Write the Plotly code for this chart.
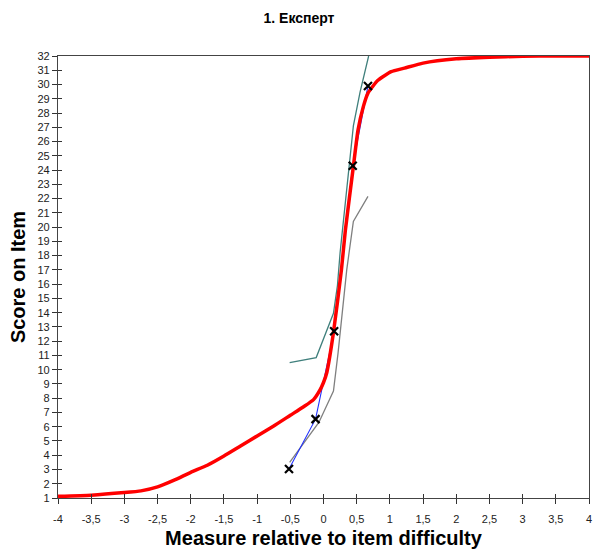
import plotly.graph_objects as go

# Model expected score curve (red)
model_x = [-4, -3.5, -3, -2.75, -2.5, -2.25, -2, -1.75, -1.5, -1.25, -1, -0.75, -0.5, -0.3, -0.15,
           -0.05, 0, 0.05, 0.15, 0.27, 0.33, 0.45, 0.52, 0.6, 0.67, 0.82, 1.02, 1.22, 1.5, 2, 2.5, 3, 3.5, 4]
model_y = [1.12, 1.2, 1.38, 1.5, 1.78, 2.25, 2.8, 3.3, 3.95, 4.65, 5.35, 6.05, 6.8, 7.4, 7.9,
           8.6, 9.1, 9.8, 12.6, 17.0, 19.8, 24.25, 26.8, 28.45, 29.4, 30.3, 30.9, 31.15, 31.5, 31.8, 31.92, 31.98, 32, 32]

# Upper band (teal)
upper_x = [-0.51, -0.11, 0.15, 0.21, 0.25, 0.30, 0.37, 0.45, 0.55, 0.68]
upper_y = [10.5, 10.85, 13.95, 15.9, 18.2, 20.5, 23.8, 27.1, 29.45, 32.0]

# Lower band (gray)
lower_x = [-0.51, -0.07, 0.15, 0.22, 0.35, 0.42, 0.45, 0.67]
lower_y = [3.5, 6.3, 8.5, 11.2, 17.0, 19.3, 20.4, 22.15]

# Observed points (blue line with x markers)
obs_x = [-0.52, -0.12, 0.16, 0.44, 0.67]
obs_y = [3.03, 6.53, 12.69, 24.3, 29.9]

x_tickvals = [-4, -3.5, -3, -2.5, -2, -1.5, -1, -0.5, 0, 0.5, 1, 1.5, 2, 2.5, 3, 3.5, 4]
x_ticktext = ["-4", "-3,5", "-3", "-2,5", "-2", "-1,5", "-1", "-0,5", "0", "0,5", "1", "1,5", "2", "2,5", "3", "3,5", "4"]
y_tickvals = list(range(1, 33))

FONT = "Liberation Sans, Arial, sans-serif"

fig = go.Figure()
fig.add_trace(go.Scatter(x=upper_x, y=upper_y, mode="lines", line=dict(color="#3f7f7c", width=1.3), showlegend=False))
fig.add_trace(go.Scatter(x=lower_x, y=lower_y, mode="lines", line=dict(color="#7f7f7f", width=1.3), showlegend=False))
fig.add_trace(go.Scatter(x=obs_x, y=obs_y, mode="lines", line=dict(color="#1f2fff", width=1.1), showlegend=False))
fig.add_trace(go.Scatter(x=model_x, y=model_y, mode="lines", line=dict(color="#ff0000", width=3.5, shape="spline", smoothing=0.5), showlegend=False))
fig.add_trace(go.Scatter(x=obs_x, y=obs_y, mode="markers",
                         marker=dict(symbol="x-thin", size=8, line=dict(color="black", width=2.2), color="black"),
                         showlegend=False))
# invisible trace for overlay axes (inner tick marks)
fig.add_trace(go.Scatter(x=[-4], y=[1], xaxis="x2", yaxis="y2", mode="markers",
                         marker=dict(opacity=0), showlegend=False, hoverinfo="skip"))

fig.update_layout(
    width=598, height=551,
    margin=dict(l=58, r=6, t=56, b=52),
    paper_bgcolor="white", plot_bgcolor="white",
    title=dict(text="<b>1. Експерт</b>", x=0.5, xanchor="center", y=1 - 18 / 551, yanchor="middle",
               font=dict(family=FONT, size=14, color="black")),
    xaxis=dict(range=[-4, 4], tickvals=x_tickvals, ticktext=x_ticktext, ticks="outside", ticklen=5,
               tickcolor="#333", tickwidth=1, showgrid=False, zeroline=False,
               showline=True, linecolor="#444", linewidth=1.3, mirror=True,
               ticklabelstandoff=6,
               tickfont=dict(family=FONT, size=11, color="#222"),
               title=dict(text="<b>Measure relative to item difficulty</b>", standoff=6,
                          font=dict(family=FONT, size=20, color="black"))),
    yaxis=dict(range=[1, 32], tickvals=y_tickvals, ticks="outside", ticklen=5,
               tickcolor="#333", tickwidth=1, showgrid=False, zeroline=False,
               showline=True, linecolor="#444", linewidth=1.3, mirror=True,
               tickfont=dict(family=FONT, size=11, color="#222"),
               title=dict(text="<b>Score on Item</b>", standoff=6,
                          font=dict(family=FONT, size=20, color="black"))),
    xaxis2=dict(range=[-4, 4], overlaying="x", anchor="y", side="bottom", tickvals=x_tickvals,
                ticks="inside", ticklen=4, tickcolor="#333", showticklabels=False,
                showgrid=False, zeroline=False, showline=False),
    yaxis2=dict(range=[1, 32], overlaying="y", anchor="x", side="left", tickvals=y_tickvals,
                ticks="inside", ticklen=4, tickcolor="#333", showticklabels=False,
                showgrid=False, zeroline=False, showline=False),
)

fig.write_html("out.html")
